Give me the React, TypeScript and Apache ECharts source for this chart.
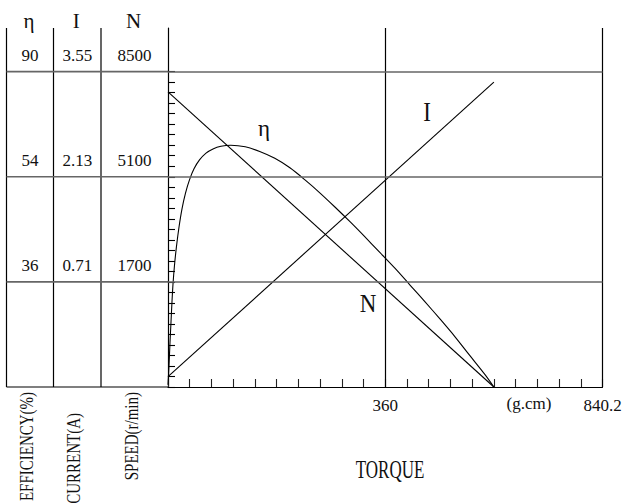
import React, { useEffect, useRef } from "react";
import * as echarts from "echarts";

const FONT = "'Liberation Serif', 'DejaVu Serif', serif";

// table / tick labels
const columnHeaders = ["η", "I", "N"];
const efficiencyTicks = ["90", "54", "36"];
const currentTicks = ["3.55", "2.13", "0.71"];
const speedTicks = ["8500", "5100", "1700"];
const rowLevels = [3, 2, 1];
const axisTitles = ["EFFICIENCY(%)", "CURRENT(A)", "SPEED(r/min)"];
const torqueLabelValues = [360, 720];
const torqueLabelTexts = ["360", "840.2"];
const torqueUnit = "(g.cm)";
const torqueTitle = "TORQUE";
const yTickValues = [
  0, 0.1, 0.2, 0.3, 0.4, 0.5, 0.6, 0.7, 0.8, 0.9, 1, 1.1, 1.2, 1.3, 1.4, 1.5,
  1.6, 1.7, 1.8, 1.9, 2, 2.1, 2.2, 2.3, 2.4, 2.5, 2.6, 2.7, 2.8, 2.9, 3,
];

// series values (x = torque, y = chart row units)
const etaTorque = [
  0, 1.7, 3.3, 5, 6.6, 8.3, 10.8, 14.1, 18.2, 23.2, 29, 35.6, 43.1, 52.2, 63, 74.6, 87.8,
  104, 128, 152, 177, 202, 227, 252, 277, 302, 326, 351, 376, 401, 426, 451, 476, 500, 525, 540,
];
const etaValue = [
  0.02, 0.21, 0.42, 0.62, 0.81, 0.98, 1.16, 1.34, 1.52, 1.695, 1.845, 1.97, 2.075, 2.16, 2.225, 2.265, 2.29,
  2.3, 2.285, 2.24, 2.175, 2.085, 1.97, 1.845, 1.71, 1.57, 1.43, 1.28, 1.13, 0.97, 0.81, 0.645, 0.475, 0.3, 0.12, 0,
];
const speedTorque = [0, 540];
const speedValue = [2.807, 0];
const currentTorque = [0, 540];
const currentValue = [0.098, 2.9];

const X_MAX = 720;
const X_INTERVAL = 36;
const Y_MAX = 3.415;

const pairs = (xs: number[], ys: number[]) => xs.map((x, i) => [x, ys[i]]);

export default function App() {
  const ref = useRef<HTMLDivElement>(null);

  useEffect(() => {
    if (!ref.current) return;
    const chart = echarts.init(ref.current, null, { renderer: "svg" });
    const lineStyle = { color: "#000", width: 1.1 };
    chart.setOption({
      animation: false,
      backgroundColor: "#fff",
      grid: { left: 168, top: 28, right: 24.5, bottom: 116, containLabel: false },
      xAxis: {
        type: "value",
        min: 0,
        max: X_MAX,
        interval: X_INTERVAL,
        axisLine: { show: true, lineStyle: { color: "#000", width: 1.2 } },
        axisTick: { show: true, inside: true, length: 8, lineStyle: { color: "#222", width: 1.1 } },
        axisLabel: {
          show: true,
          margin: 10,
          color: "#111",
          fontFamily: FONT,
          fontSize: 17,
          formatter: (v: number) => {
            const i = torqueLabelValues.indexOf(v);
            return i >= 0 ? torqueLabelTexts[i] : "";
          },
        },
        splitLine: { show: false },
      },
      yAxis: {
        type: "value",
        min: 0,
        max: Y_MAX,
        interval: 1,
        axisLine: { show: true, onZero: false, lineStyle: { color: "#000", width: 1.2 } },
        axisTick: { show: true, inside: true, length: 7, customValues: yTickValues, lineStyle: { color: "#000", width: 1.1 } },
        axisLabel: { show: false },
        splitLine: { show: false },
      },
      series: [
        {
          name: "η",
          type: "line",
          data: pairs(etaTorque, etaValue),
          smooth: 0.3,
          showSymbol: false,
          lineStyle,
          silent: true,
        },
        {
          name: "N",
          type: "line",
          data: pairs(speedTorque, speedValue),
          showSymbol: false,
          lineStyle,
          silent: true,
          markLine: {
            silent: true,
            symbol: "none",
            label: { show: false },
            lineStyle: { color: "#000", width: 1.2, type: "solid" },
            data: torqueLabelValues.map((v) => ({ xAxis: v })),
          },
        },
        {
          name: "I",
          type: "line",
          data: pairs(currentTorque, currentValue),
          showSymbol: false,
          lineStyle,
          silent: true,
          markLine: {
            silent: true,
            symbol: "none",
            label: { show: false },
            lineStyle: { color: "#666", width: 1.6, type: "solid" },
            data: rowLevels.map((v) => ({ yAxis: v })),
          },
        },
      ],
    });

    const yPx = (v: number) => chart.convertToPixel({ yAxisIndex: 0 }, v) as number;
    const xPx = (v: number) => chart.convertToPixel({ xAxisIndex: 0 }, v) as number;
    const x0 = xPx(0);
    const yTop = yPx(Y_MAX);
    const yBottom = yPx(0);
    const colEdges = [6.5, 53.5, 101, x0];
    const colCenters = [0, 1, 2].map((i) => (colEdges[i] + colEdges[i + 1]) / 2);

    const text = (t: string, x: number, y: number, size: number, extra: any = {}) => ({
      type: "text",
      x,
      y,
      silent: true,
      ...extra,
      style: {
        text: t,
        font: `${size}px ${FONT}`,
        fill: "#111",
        align: extra.align || "center",
        verticalAlign: "middle",
        textAlign: extra.align || "center",
        textVerticalAlign: "middle",
      },
    });

    const elements: any[] = [];
    // table vertical lines
    colEdges.slice(0, 3).forEach((x) =>
      elements.push({ type: "line", silent: true, shape: { x1: x, y1: yTop, x2: x, y2: yBottom }, style: { stroke: "#000", lineWidth: 1.2 } })
    );
    // table horizontal lines
    rowLevels.forEach((lv) =>
      elements.push({ type: "line", silent: true, shape: { x1: colEdges[0], y1: yPx(lv), x2: x0, y2: yPx(lv) }, style: { stroke: "#666", lineWidth: 1.6 } })
    );
    elements.push({ type: "line", silent: true, shape: { x1: colEdges[0], y1: yBottom, x2: x0, y2: yBottom }, style: { stroke: "#000", lineWidth: 1.2 } });

    // headers
    columnHeaders.forEach((h, i) => elements.push(text(h, colCenters[i] - 1, 21, 21)));
    // row values
    const cols = [efficiencyTicks, currentTicks, speedTicks];
    cols.forEach((col, ci) =>
      col.forEach((t, ri) => elements.push(text(t, colCenters[ci], yPx(rowLevels[ri]) - 16, 17)))
    );
    // rotated axis titles
    const titleTops = [392, 413, 392];
    axisTitles.forEach((t, i) =>
      elements.push(text(t, colCenters[i] - 3, titleTops[i], 15, { rotation: Math.PI / 2, align: "right", scaleY: 1.3 }))
    );
    // torque unit and title
    elements.push(text(torqueUnit, 529, yBottom + 16, 17));
    elements.push(text(torqueTitle, 390, 470, 17, { scaleY: 1.45 }));
    // curve labels
    elements.push(text("η", 264, 128, 23));
    elements.push(text("I", 427, 112, 23, { scaleY: 1.15 }));
    elements.push(text("N", 368, 303, 23, { scaleY: 1.1 }));

    chart.setOption({ graphic: { elements } });

    return () => chart.dispose();
  }, []);

  return (
    <div
      ref={ref}
      style={{ position: "fixed", left: 0, top: 0, width: 627, height: 503, background: "#fff" }}
    />
  );
}
